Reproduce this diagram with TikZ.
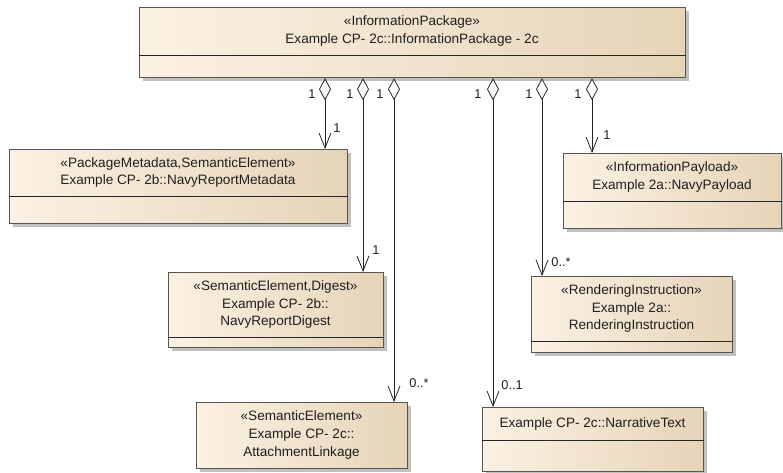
\documentclass[tikz,border=0pt]{standalone}
\usepackage{fontspec}
\setmainfont{Liberation Sans}
\usetikzlibrary{arrows.meta,shadows}

\definecolor{umlLight}{RGB}{251,241,227}
\definecolor{umlDark}{RGB}{230,212,184}
\definecolor{umlEdge}{RGB}{88,84,80}
\definecolor{umlShadow}{RGB}{192,192,192}

\tikzset{
  classbox/.style={draw=umlEdge, line width=1.2pt, left color=umlLight, right color=umlDark,
    anchor=north west, inner sep=0pt,
    drop shadow={shadow xshift=3pt, shadow yshift=-3pt, fill=umlShadow, opacity=1}},
  classname/.style={align=center, inner sep=0pt, text=black!88,
    font=\fontsize{13.6}{17.7}\selectfont},
  compart/.style={draw=black!85, line width=0.9pt},
  assoc/.style={draw=black!85, line width=0.8pt,
    {Diamond[length=22pt,width=12pt,fill=white]}-{Straight Barb[length=15pt,width=12pt]}},
  mult/.style={inner sep=0pt, text=black!88, font=\fontsize{12.8}{14}\selectfont},
  srcmult/.style={mult, pos=0, xshift=-13pt, yshift=-16pt},
  dstmult/.style={mult, pos=1, anchor=west, xshift=9pt, yshift=19pt},
}

\begin{document}
\begin{tikzpicture}[x=1pt,y=-1pt]
  \useasboundingbox (0,0) rectangle (783,472);

  % --- InformationPackage (whole) ---
  \node[classbox, minimum width=546, minimum height=70] (pkg) at (139,7) {};
  \node[classname] (pkgname) at (412,31) {«InformationPackage»\\Example CP- 2c::InformationPackage - 2c};
  \draw[compart] (pkg.west |- 0,55) -- (pkg.east |- 0,55);

  % --- Parts ---
  \node[classbox, minimum width=338, minimum height=74] (meta) at (9,149) {};
  \node[classname] (metaname) at (178,172.5) {«PackageMetadata,SemanticElement»\\Example CP- 2b::NavyReportMetadata};
  \draw[compart] (meta.west |- 0,196) -- (meta.east |- 0,196);

  \node[classbox, minimum width=218, minimum height=75] (payload) at (563,153) {};
  \node[classname] (payloadname) at (672,177) {«InformationPayload»\\Example 2a::NavyPayload};
  \draw[compart] (payload.west |- 0,201) -- (payload.east |- 0,201);

  \node[classbox, minimum width=215, minimum height=75] (digest) at (168,272) {};
  \node[classname] (digestname) at (275.5,304.5) {«SemanticElement,Digest»\\Example CP- 2b::\\NavyReportDigest};
  \draw[compart] (digest.west |- 0,337) -- (digest.east |- 0,337);

  \node[classbox, minimum width=201, minimum height=76] (render) at (531,276) {};
  \node[classname] (rendername) at (631.5,308.5) {«RenderingInstruction»\\Example 2a::\\RenderingInstruction};
  \draw[compart] (render.west |- 0,341) -- (render.east |- 0,341);

  \node[classbox, minimum width=211, minimum height=66] (attach) at (196,402) {};
  \node[classname] (attachname) at (301.5,435) {«SemanticElement»\\Example CP- 2c::\\AttachmentLinkage};

  \node[classbox, minimum width=221, minimum height=64] (narr) at (482,407) {};
  \node[classname] (narrname) at (592.5,423.5) {Example CP- 2c::NarrativeText};
  \draw[compart] (narr.west |- 0,440) -- (narr.east |- 0,440);

  % --- Aggregations ---
  \draw[assoc] (325,0 |- pkg.south) -- (325,0 |- meta.north)
    node[srcmult] {1} node[dstmult, xshift=-1pt, yshift=2pt] {1};
  \draw[assoc] (363,0 |- pkg.south) -- (363,0 |- digest.north)
    node[srcmult] {1} node[dstmult, yshift=3pt] {1};
  \draw[assoc] (394,0 |- pkg.south) -- (394,0 |- attach.north)
    node[srcmult, xshift=-1pt] {1} node[dstmult, xshift=6pt] {0..*};
  \draw[assoc] (493,0 |- pkg.south) -- (493,0 |- narr.north)
    node[srcmult, xshift=-2pt] {1} node[dstmult, xshift=-1pt, yshift=3pt] {0..1};
  \draw[assoc] (542,0 |- pkg.south) -- (542,0 |- render.north)
    node[srcmult] {1} node[dstmult, yshift=-5pt] {0..*};
  \draw[assoc] (592,0 |- pkg.south) -- (592,0 |- payload.north)
    node[srcmult, xshift=-1pt] {1} node[dstmult, xshift=2pt, yshift=-1pt] {1};

\end{tikzpicture}
\end{document}
